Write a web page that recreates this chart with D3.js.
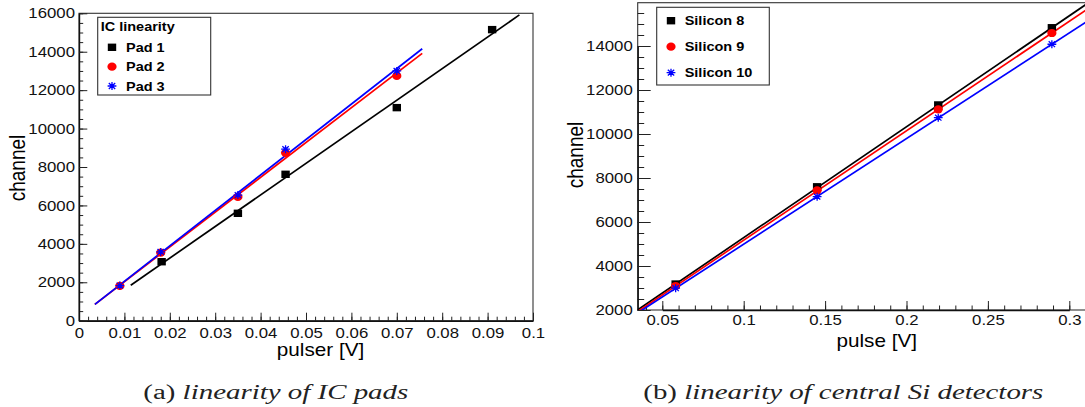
<!DOCTYPE html>
<html><head><meta charset="utf-8">
<script src="https://cdn.jsdelivr.net/npm/d3@7"></script>
<style>body{margin:0;background:#fff}svg{display:block}</style>
</head><body>
<script>
// ---------- data ----------
const padNames = ["Pad 1", "Pad 2", "Pad 3"];
const pad1X = [0.0182, 0.035, 0.0455, 0.070, 0.091];
const pad1Y = [3070, 5590, 7620, 11090, 15150];
const pad23X = [0.009, 0.018, 0.035, 0.0455, 0.070];
const pad2Y = [1810, 3540, 6440, 8740, 12740];
const pad3Y = [1830, 3580, 6540, 8930, 13000];
const padFitSlope = [164376, 181193, 184521];
const padFitIntercept = [-29, 216, 205];
const padFitStart = [0.0114, 0.0035, 0.0035];
const padFitEnd = [0.0970, 0.0756, 0.0756];

const siNames = ["Silicon 8", "Silicon 9", "Silicon 10"];
const siX = [0.0582, 0.1451, 0.2195, 0.2893];
const si8Y = [3180, 7600, 11320, 14830];
const si9Y = [3090, 7440, 11120, 14590];
const si10Y = [2990, 7150, 10740, 14080];
const siFitSlope = [50411, 49762, 47992];
const siFitIntercept = [248, 195, 193];
const siFitStart = [0.02, 0.02, 0.02];
const siFitEnd = [0.33, 0.33, 0.33];

const leftXTicks = [0, 0.01, 0.02, 0.03, 0.04, 0.05, 0.06, 0.07, 0.08, 0.09, 0.1];
const leftYTicks = [0, 2000, 4000, 6000, 8000, 10000, 12000, 14000, 16000];
const rightXTicks = [0.05, 0.1, 0.15, 0.2, 0.25, 0.3];
const rightYTicks = [2000, 4000, 6000, 8000, 10000, 12000, 14000];

const seriesColors = ["#000000", "#ff0000", "#0000ff"];
const seriesMarkers = ["square", "circle", "star"];

// ---------- drawing ----------
const W = 1085, H = 407, SX = 1.15;
const FONT = "'Liberation Sans', Arial, Helvetica, sans-serif";
const svg = d3.select("body").append("svg").attr("width", W).attr("height", H);

function fmt(v) { return String(+v.toFixed(3)); }

function marker(g, type, cx, cy, color) {
  if (type === "square") {
    g.append("rect").attr("x", cx - 4.2).attr("y", cy - 3.7).attr("width", 8.4).attr("height", 7.4).attr("fill", color);
  } else if (type === "circle") {
    g.append("ellipse").attr("cx", cx).attr("cy", cy).attr("rx", 4.6).attr("ry", 4.1).attr("fill", color);
  } else {
    const a = 4.4, b = 4.0, d = 3.2, e = 2.9;
    const p = `M${cx - a},${cy}L${cx + a},${cy}M${cx},${cy - b}L${cx},${cy + b}` +
      `M${cx - d},${cy - e}L${cx + d},${cy + e}M${cx - d},${cy + e}L${cx + d},${cy - e}`;
    g.append("path").attr("d", p).attr("stroke", color).attr("stroke-width", 1.3).attr("fill", "none");
  }
}

function drawPlot(o) {
  const g = svg.append("g");
  const clipId = "clip" + o.id;
  g.append("clipPath").attr("id", clipId).append("rect")
    .attr("x", o.x0).attr("y", o.y0).attr("width", o.x1 - o.x0).attr("height", o.y1 - o.y0);

  g.append("rect").attr("x", o.x0).attr("y", o.y0).attr("width", o.x1 - o.x0).attr("height", o.y1 - o.y0)
    .attr("fill", "none").attr("stroke", "#333").attr("stroke-width", 1.1);

  const mx = g.append("g").attr("transform", `translate(0,${o.y1})`)
    .call(d3.axisBottom(o.x).tickValues(o.xMinor).tickSize(-o.xMinorLen).tickSizeOuter(0).tickFormat(""));
  mx.select(".domain").remove();
  const my = g.append("g").attr("transform", `translate(${o.x0},0)`)
    .call(d3.axisLeft(o.y).tickValues(o.yMinor).tickSize(-o.yMinorLen).tickSizeOuter(0).tickFormat(""));
  my.select(".domain").remove();

  const ax = g.append("g").attr("transform", `translate(0,${o.y1})`)
    .call(d3.axisBottom(o.x).tickValues(o.xTicks).tickSize(-o.xMajorLen).tickSizeOuter(0)
      .tickPadding(o.xPad).tickFormat(fmt));
  ax.select(".domain").attr("stroke", "#111").attr("stroke-width", 1.4);
  ax.selectAll("text").attr("font-family", FONT).attr("font-size", o.fs).attr("fill", "#111")
    .attr("transform", `scale(${SX},1)`);
  const ay = g.append("g").attr("transform", `translate(${o.x0},0)`)
    .call(d3.axisLeft(o.y).tickValues(o.yTicks).tickSize(-o.yMajorLen).tickSizeOuter(0)
      .tickPadding(o.yPad).tickFormat(fmt));
  ay.select(".domain").attr("stroke", "#111").attr("stroke-width", 1.4);
  ay.selectAll("text").attr("font-family", FONT).attr("font-size", o.fs).attr("fill", "#111")
    .attr("x", -o.yPad / SX).attr("transform", `scale(${SX},1)`);
  g.selectAll(".tick line").attr("stroke", "#222");

  const pg = g.append("g").attr("clip-path", `url(#${clipId})`);
  o.series.forEach((s, i) => {
    const pts = [s.fs0, s.fs1].map(v => [o.x(v), o.y(s.slope * v + s.icpt)]);
    pg.append("path").attr("d", d3.line()(pts)).attr("stroke", seriesColors[i])
      .attr("stroke-width", 1.7).attr("fill", "none");
  });
  o.series.forEach((s, i) => {
    s.xs.forEach((xv, k) => marker(pg, seriesMarkers[i], o.x(xv), o.y(s.ys[k]), seriesColors[i]));
  });

  g.append("text").attr("font-family", FONT).attr("font-size", 18).attr("text-anchor", "middle")
    .attr("transform", `translate(${o.xtX},${o.xtY}) scale(${SX},1)`).text(o.xTitle);
  g.append("text").attr("font-family", FONT).attr("font-size", 19).attr("text-anchor", "middle")
    .attr("transform", `translate(${o.ytX},${o.ytY}) rotate(-90) scale(1,${SX})`).text(o.yTitle);

  const L = o.legend;
  g.append("rect").attr("x", L.x0).attr("y", L.y0).attr("width", L.x1 - L.x0).attr("height", L.y1 - L.y0)
    .attr("fill", "#fff").attr("stroke", "#333").attr("stroke-width", 1.1);
  if (L.title) {
    g.append("text").attr("font-family", FONT).attr("font-weight", "bold").attr("font-size", 12.6)
      .attr("dy", "0.36em").attr("transform", `translate(${L.titleX},${L.titleY}) scale(${SX},1)`).text(L.title);
  }
  o.names.forEach((n, i) => {
    marker(g, seriesMarkers[i], L.mx, L.rows[i], seriesColors[i]);
    g.append("text").attr("font-family", FONT).attr("font-weight", "bold").attr("font-size", 12.6)
      .attr("dy", "0.36em").attr("transform", `translate(${L.tx},${L.rows[i]}) scale(${SX},1)`).text(n);
  });
}

const range = (a, b, s) => d3.range(Math.round(a / s), Math.round(b / s) + 1).map(k => +(k * s).toFixed(4));

const xL = d3.scaleLinear().domain([0, 0.1]).range([79, 533]);
const yL = d3.scaleLinear().domain([0, 16000]).range([320.7, 13.3]);
drawPlot({
  id: "L", x: xL, y: yL, x0: 79, x1: 533, y0: 13.3, y1: 320.7,
  xTicks: leftXTicks, yTicks: leftYTicks, xMinor: range(0, 0.1, 0.002), yMinor: range(0, 16000, 500),
  xMajorLen: 8, xMinorLen: 4, yMajorLen: 8.3, yMinorLen: 4.2, xPad: 6.5, yPad: 4, fs: 14.6,
  xTitle: "pulser [V]", xtX: 320.5, xtY: 355.5, yTitle: "channel", ytX: 25, ytY: 168,
  names: padNames,
  series: [
    { xs: pad1X, ys: pad1Y, slope: padFitSlope[0], icpt: padFitIntercept[0], fs0: padFitStart[0], fs1: padFitEnd[0] },
    { xs: pad23X, ys: pad2Y, slope: padFitSlope[1], icpt: padFitIntercept[1], fs0: padFitStart[1], fs1: padFitEnd[1] },
    { xs: pad23X, ys: pad3Y, slope: padFitSlope[2], icpt: padFitIntercept[2], fs0: padFitStart[2], fs1: padFitEnd[2] }
  ],
  legend: { x0: 97.7, x1: 210.7, y0: 17.3, y1: 95, title: "IC linearity", titleX: 100.7, titleY: 26.7,
    mx: 112, tx: 126, rows: [47.3, 66.7, 86] }
});

const xR = d3.scaleLinear().domain([0.05, 0.3]).range([662.3, 1069.3]);
const yR = d3.scaleLinear().domain([2000, 14000]).range([310, 46]);
drawPlot({
  id: "R", x: xR, y: yR, x0: 637.7, x1: 1092, y0: 2.7, y1: 310,
  xTicks: rightXTicks, yTicks: rightYTicks, xMinor: range(0.04, 0.31, 0.01), yMinor: range(2000, 15500, 500),
  xMajorLen: 9, xMinorLen: 4.5, yMajorLen: 13, yMinorLen: 6.5, xPad: 5, yPad: 5, fs: 14.6,
  xTitle: "pulse [V]", xtX: 876.7, xtY: 346.5, yTitle: "channel", ytX: 583, ytY: 155,
  names: siNames,
  series: [
    { xs: siX, ys: si8Y, slope: siFitSlope[0], icpt: siFitIntercept[0], fs0: siFitStart[0], fs1: siFitEnd[0] },
    { xs: siX, ys: si9Y, slope: siFitSlope[1], icpt: siFitIntercept[1], fs0: siFitStart[1], fs1: siFitEnd[1] },
    { xs: siX, ys: si10Y, slope: siFitSlope[2], icpt: siFitIntercept[2], fs0: siFitStart[2], fs1: siFitEnd[2] }
  ],
  legend: { x0: 656.7, x1: 769.3, y0: 7.3, y1: 85, title: null,
    mx: 671, tx: 684.7, rows: [20.7, 46.7, 72.7] }
});

function caption(x, w, label, desc) {
  const t = svg.append("text").attr("x", x).attr("y", 398.5).attr("font-family", "'Liberation Serif', 'Times New Roman', serif")
    .attr("font-size", 20.5).attr("fill", "#222").attr("textLength", w).attr("lengthAdjust", "spacingAndGlyphs");
  t.append("tspan").text(label + " ");
  t.append("tspan").attr("font-style", "italic").text(desc);
}
caption(143.3, 265, "(a)", "linearity of IC pads");
caption(643.3, 400, "(b)", "linearity of central Si detectors");
</script>
</body></html>
